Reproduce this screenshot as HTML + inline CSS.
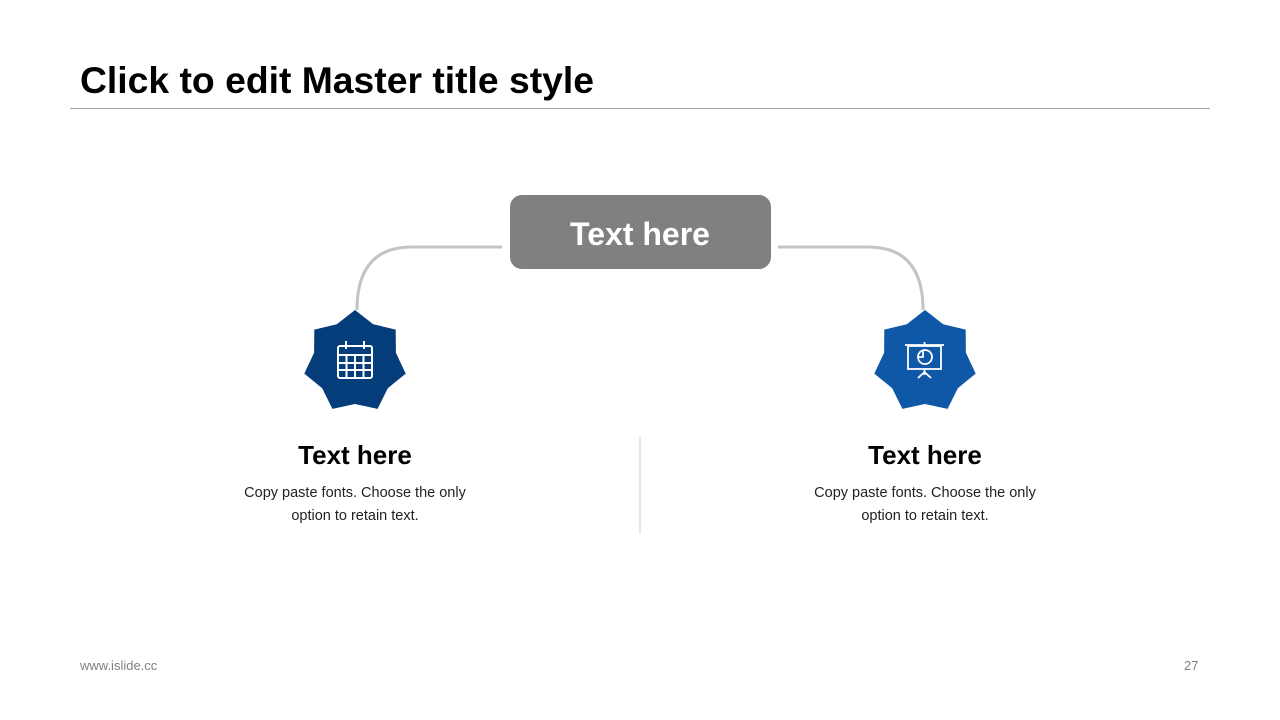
<!DOCTYPE html>
<html><head><meta charset="utf-8"><style>
body{margin:0;width:1280px;height:720px;background:#fff;font-family:"Liberation Sans",sans-serif;position:relative;overflow:hidden}
.a{position:absolute}
</style></head><body>
<div class="a" style="left:80px;top:59px;font-size:37.3px;font-weight:bold;color:#000">Click to edit Master title style</div>
<div class="a" style="left:70px;top:108px;width:1140px;height:1px;background:#a6a6a6"></div>
<svg class="a" style="left:0;top:0" width="1280" height="720">
<path d="M502 247 H412 Q357 247 357 310" fill="none" stroke="#c4c4c4" stroke-width="3"/>
<path d="M778 247 H868 Q923 247 923 310" fill="none" stroke="#c4c4c4" stroke-width="3"/>
<rect x="510" y="195" width="261" height="74" rx="12" fill="#808080"/>
<text x="640" y="245" text-anchor="middle" font-family="Liberation Sans" font-weight="bold" font-size="32" fill="#fff">Text here</text>
<polygon id="s1" fill="#053c7a"/>
<polygon id="s2" fill="#0f58a8"/>
<line x1="640" y1="437" x2="640" y2="534" stroke="#d0d0d0"/>
<g fill="none" stroke="#fff" stroke-width="2">
<rect x="338" y="346" width="34" height="32" rx="2"/>
<line x1="338" y1="355" x2="372" y2="355"/>
<line x1="346" y1="341" x2="346" y2="349"/><line x1="364" y1="341" x2="364" y2="349"/>
<line x1="338" y1="363" x2="372" y2="363"/><line x1="338" y1="370" x2="372" y2="370"/>
<line x1="346.5" y1="355" x2="346.5" y2="378"/><line x1="355" y1="355" x2="355" y2="378"/><line x1="363.5" y1="355" x2="363.5" y2="378"/>
</g>
<g fill="none" stroke="#fff" stroke-width="1.8">
<line x1="905" y1="345" x2="944" y2="345"/>
<rect x="908" y="346" width="33" height="23"/>
<line x1="924.5" y1="342" x2="924.5" y2="345"/>
<line x1="924.5" y1="369" x2="924.5" y2="375"/>
<line x1="924.5" y1="372" x2="918" y2="378"/><line x1="924.5" y1="372" x2="931" y2="378"/>
<circle cx="925" cy="357" r="7"/>
<path d="M923 350 V357 H918"/>
</g>
</svg>
<script>
function star(id,cx,cy,R,r){var p=[];for(var i=0;i<14;i++){var a=-Math.PI/2+i*Math.PI/7;var rr=i%2?r:R;p.push((cx+rr*Math.cos(a)).toFixed(1)+','+(cy+rr*Math.sin(a)).toFixed(1));}document.getElementById(id).setAttribute('points',p.join(' '));}
star('s1',355,362,52,42);star('s2',925,362,52,42);
</script>
<div class="a" style="left:205px;top:440px;width:300px;text-align:center;font-size:26px;font-weight:bold">Text here</div>
<div class="a" style="left:205px;top:482px;width:300px;text-align:center;font-size:14.5px;line-height:23px;color:#222">Copy paste fonts. Choose the only<br>option to retain text.</div>
<div class="a" style="left:775px;top:440px;width:300px;text-align:center;font-size:26px;font-weight:bold">Text here</div>
<div class="a" style="left:775px;top:482px;width:300px;text-align:center;font-size:14.5px;line-height:23px;color:#222">Copy paste fonts. Choose the only<br>option to retain text.</div>
<div class="a" style="left:80px;top:658px;font-size:13px;color:#808080">www.islide.cc</div>
<div class="a" style="left:1184px;top:658px;font-size:13px;color:#808080">27</div>
</body></html>
